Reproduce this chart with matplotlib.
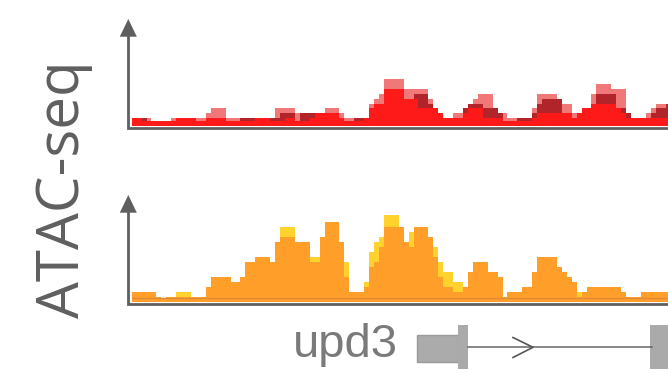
import matplotlib
matplotlib.use("Agg")
import matplotlib.pyplot as plt
from matplotlib.patches import Polygon, Rectangle
import numpy as np

W, H = 668, 373

# ATAC-seq signal per bin (bins ~5 px wide), top track: three replicates
red_rep1 = [1.5, 1.5, 1, 1, 1, 1, 1, 1, 1, 1.5, 1.5, 1.5, 1.5, 1, 1, 1.5, 1.5, 1.5, 1.5, 1,
            1, 1, 1, 1, 1, 1.5, 1.5, 1.5, 1, 1, 1, 1.5, 1.5, 1, 1, 1, 1.5, 2.5, 2.5, 2.5,
            2.5, 2.5, 1.5, 1, 1, 1, 1, 1.5, 3.5, 4.3, 4.3, 7.3, 7.3, 7.3, 7.3, 5.3, 5.3, 5.3, 3.5, 3.5,
            3.5, 3.5, 2.5, 1.5, 1.5, 1.5, 1.5, 2.5, 3.5, 3.5, 3.5, 1.5, 1.5, 1.5, 1.5, 1, 1, 1, 1, 1,
            1, 1.5, 2.5, 2.5, 2.5, 2.5, 2.5, 2.5, 2.5, 1.5, 2.5, 3.5, 3.5, 4.3, 4.3, 4.3, 4.3, 4.3, 3.5, 2.5,
            1.5, 1.5, 1.5, 1.5, 1.5, 1.5, 1.5, 1.5, 1.5]
red_rep2 = [1.5, 1.5, 1.5, 1, 1, 1, 1, 1, 1, 1.5, 1.5, 1.5, 1.5, 1, 1, 1.5, 1.5, 1.5, 1.5, 1,
            1, 1, 1.5, 1.5, 1.5, 1.5, 1.5, 1.5, 1.5, 1.5, 2.5, 2.5, 2.5, 1, 2.5, 2.5, 2.5, 2.5, 2.5, 2.5,
            2.5, 2.5, 1.5, 1, 1, 1.5, 1.5, 1.5, 3.5, 4.3, 4.3, 7.3, 7.3, 7.3, 7.3, 5.3, 5.3, 6.3, 6.3, 6.3,
            4.3, 3.5, 2.5, 1.5, 1.5, 1.5, 1.5, 3.5, 4.3, 4.3, 4.3, 3.5, 3.5, 3.5, 2.5, 1, 1, 1, 1.5, 1.5,
            1.5, 2.5, 4.3, 5.3, 5.3, 5.3, 5.3, 2.5, 2.5, 1.5, 2.5, 3.5, 3.5, 4.3, 6.3, 6.3, 6.3, 6.3, 3.5, 3.5,
            2.5, 1.5, 1.5, 1.5, 1.5, 2.5, 3.5, 3.5, 4.3]
red_rep3 = [1.5, 1.5, 1.5, 1.5, 1, 1, 1, 1, 1.5, 1.5, 1.5, 1.5, 1.5, 1.5, 1.5, 2.5, 3.5, 3.5, 3.5, 1.5,
            1.5, 1.5, 1.5, 1.5, 1.5, 1.5, 1.5, 1.5, 1.5, 3.5, 3.5, 3.5, 3.5, 2.5, 2.5, 2.5, 2.5, 2.5, 2.5, 3.5,
            3.5, 3.5, 2.5, 1.5, 1.5, 1.5, 1.5, 1.5, 4.3, 5.3, 6.3, 9.3, 9.3, 9.3, 9.3, 7.3, 7.3, 7.3, 7.3, 7.3,
            5.3, 3.5, 2.5, 1.5, 1.5, 2.5, 2.5, 3.5, 4.3, 5.3, 6.3, 6.3, 6.3, 3.5, 2.5, 2.5, 1.5, 1.5, 1.5, 1.5,
            1.5, 3.5, 6.3, 6.3, 6.3, 6.3, 5.3, 4.3, 4.3, 2.5, 2.5, 3.5, 3.5, 6.3, 8.3, 8.3, 8.3, 7.3, 7.3, 7.3,
            2.5, 1.5, 1.5, 1.5, 2.5, 3.5, 4.3, 4.3, 4.3]

# bottom track: two replicates
orange_rep1 = [2, 2, 2, 2, 2, 1, 0.6, 1, 1, 1, 1, 1, 1, 1, 1, 3, 5, 5, 5, 5,
               4, 4, 5, 8, 8, 9, 9, 9, 8, 12, 13, 13, 13, 12, 12, 12, 8, 8, 13, 16,
               16, 16, 12, 5, 2, 2, 2, 3, 7, 8, 11, 15, 15, 15, 15, 12, 11, 15, 15, 15,
               13, 9, 5, 3, 3, 2, 2, 3, 6, 8, 8, 8, 6, 6, 5, 1, 2, 2, 2, 3,
               3, 6, 9, 9, 9, 9, 7, 6, 5, 4, 1, 2, 3, 3, 3, 3, 3, 3, 3, 2,
               1, 1, 1, 2, 2, 2, 2, 2, 2]
yellow_rep2 = [2, 2, 2, 2, 2, 1, 0.6, 1, 1, 2, 2, 2, 1, 1, 1, 3, 5, 5, 5, 5,
               4, 4, 5, 8, 8, 9, 9, 9, 8, 12, 15, 15, 15, 12, 12, 12, 9, 9, 13, 16,
               16, 16, 12, 8, 2, 2, 2, 4, 10, 12, 13, 18, 18, 18, 15, 12, 14, 15, 15, 15,
               13, 11, 8, 6, 6, 4, 4, 3, 6, 8, 8, 8, 6, 6, 5, 1, 2, 2, 2, 3,
               3, 6, 9, 9, 9, 9, 7, 6, 5, 4, 2, 2, 3, 3, 3, 3, 3, 3, 3, 2,
               1, 1, 1, 2, 2, 2, 2, 2, 2]

track_label = "ATAC-seq"
gene_name = "upd3"

GREY = "#5f5f5f"


def px_axes(x0, y0, x1, y1):
    # pixel box (top-left origin) -> figure axes
    return fig.add_axes([x0 / W, 1 - y1 / H, (x1 - x0) / W, (y1 - y0) / H])


fig = plt.figure(figsize=(W / 100, H / 100), dpi=100)

bin_px = 4.944
x_start = 131.7
n_vis = (W - x_start) / bin_px

# top track
ax_top = px_axes(x_start, 40, W, 125.7)
edges = np.arange(len(red_rep1) + 1)
ax_top.stairs(red_rep3, edges, fill=True, color="#f07878", lw=0)
ax_top.stairs(red_rep2, edges, fill=True, color="#b0242a", lw=0)
ax_top.stairs(red_rep1, edges, fill=True, color="#ff1a1a", lw=0)
ax_top.set_xlim(0, n_vis)
ax_top.set_ylim(0, (125.7 - 40) / 5)
ax_top.axis("off")

# bottom track
ax_bot = px_axes(x_start, 215, W, 301.7)
edges = np.arange(len(orange_rep1) + 1)
ax_bot.stairs(yellow_rep2, edges, fill=True, color="#ffd22e", lw=0)
ax_bot.stairs(orange_rep1, edges, fill=True, color="#ff9e28", lw=0)
ax_bot.axhline(0.68, color="#e0883c", lw=0.9)
ax_bot.set_xlim(0, n_vis)
ax_bot.set_ylim(0, (301.7 - 215) / 5)
ax_bot.axis("off")

# overlay in pixel coords for axes arrows, label and gene model
ov = fig.add_axes([0, 0, 1, 1])
ov.set_xlim(0, W)
ov.set_ylim(H, 0)
ov.axis("off")
ov.patch.set_alpha(0)

for tip, base in [(19, 128.3), (195, 304)]:
    ov.plot([128.3, 128.3, W + 5], [tip + 16, base, base], color=GREY, lw=2.0,
            solid_joinstyle="miter", solid_capstyle="butt")
    ov.add_patch(Polygon([(119.8, tip + 17.7), (128.3, tip), (136.8, tip + 17.7)],
                         closed=True, color=GREY, lw=0))

ov.text(64, 189.5, track_label, rotation=90, ha="center", va="center",
        fontsize=42, color=GREY, family="Open Sans")

# gene model
ov.text(398, 356.7, gene_name, ha="right", va="baseline", fontsize=34,
        color="#7a7a7a", family="Liberation Sans")
ov.plot([468, 652], [347.3, 347.3], color="#666666", lw=1.1)
ov.plot([513, 533, 513], [337.5, 347.3, 357.5], color="#555555", lw=1.2)
ov.add_patch(Rectangle((417, 334.5), 41.3, 27, facecolor="#ababab",
                       edgecolor="#9a9a9a", lw=1.0))
ov.add_patch(Rectangle((458.3, 325), 10, 44.3, facecolor="#aaaaaa", lw=0))
ov.add_patch(Rectangle((650, 325), 20, 44.3, facecolor="#aaaaaa", lw=0))

fig.savefig("out.png", dpi=100)
